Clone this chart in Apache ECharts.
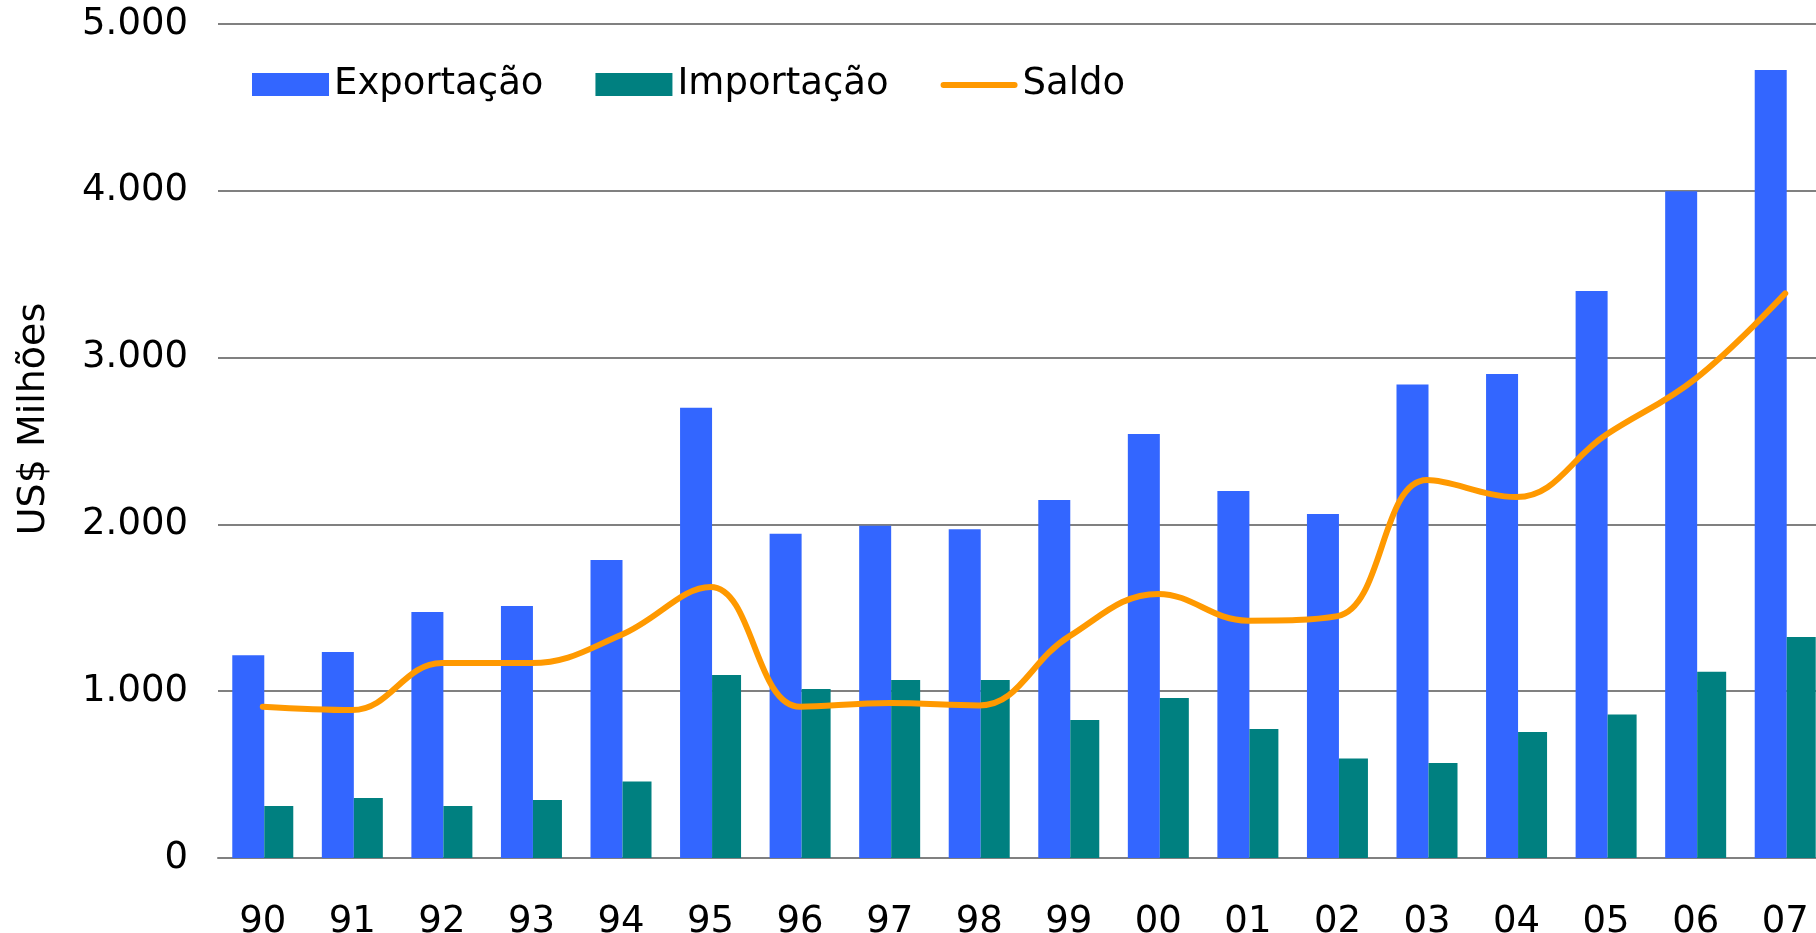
<!DOCTYPE html>
<html lang="pt">

<head>
    <meta charset="UTF-8">
    <title>Exportação x Importação</title>
    <script src="https://cdn.jsdelivr.net/npm/echarts@6.0.0/dist/echarts.min.js"></script>
    <style>
        html, body { margin: 0; padding: 0; background: #fff; }
    </style>
</head>

<body>
    <div id="main" style="width:1816px; height:933px;"></div>
    <script type="text/javascript">
        var anos = ['90', '91', '92', '93', '94', '95', '96', '97', '98', '99',
            '00', '01', '02', '03', '04', '05', '06', '07'];

        // US$ milhões
        var exportacao = [1215, 1235, 1475, 1511, 1787, 2700, 1944, 1992, 1971, 2146,
            2542, 2200, 2062, 2839, 2902, 3399, 3998, 4724];
        var importacao = [312, 360, 312, 347, 458, 1097, 1013, 1067, 1067, 827,
            959, 773, 597, 569, 756, 860, 1117, 1325];
        var saldo = [907, 887, 1169, 1169, 1337, 1625, 907, 929, 915, 1327,
            1583, 1423, 1450, 2266, 2164, 2537, 2874, 3385];

        var yTicks = [0, 1000, 2000, 3000, 4000, 5000];

        var fonte = 'DejaVu Sans';
        var cinza = '#808080';
        // traço arredondado para a legenda do saldo (o M0,0 M0,23 fixa a caixa)
        var iconeSaldo = 'path://M0,0 M0,23 M3,9 L74,9 A3,3 0 0 1 74,15 L3,15 A3,3 0 0 1 3,9 Z';

        var myChart = echarts.init(document.getElementById('main'));

        var option = {
            backgroundColor: '#ffffff',
            animation: false,
            textStyle: { fontFamily: fonte, color: '#000' },
            legend: {
                left: 247,
                top: 61,
                itemWidth: 77,
                itemHeight: 23,
                itemGap: 52,
                textStyle: { fontFamily: fonte, fontSize: 37, color: '#000', padding: [0, 0, 0, 0] },
                data: [
                    { name: 'Exportação', icon: 'rect' },
                    { name: 'Importação', icon: 'rect' },
                    { name: 'Saldo', icon: iconeSaldo }
                ]
            },
            grid: {
                left: 218,
                right: -14,
                top: 24,
                bottom: 75,
                containLabel: false,
                outerBoundsMode: 'none'
            },
            xAxis: {
                type: 'category',
                data: anos,
                axisLine: { show: true, lineStyle: { color: cinza, width: 2 } },
                axisTick: { show: false },
                axisLabel: {
                    margin: 46,
                    fontFamily: fonte,
                    fontSize: 37,
                    color: '#000'
                }
            },
            yAxis: {
                type: 'value',
                min: yTicks[0],
                max: yTicks[yTicks.length - 1],
                interval: 1000,
                name: 'US$ Milhões',
                nameLocation: 'middle',
                nameGap: 165,
                nameTextStyle: {
                    fontFamily: fonte,
                    fontSize: 38,
                    color: '#000',
                    padding: [0, 0, 0, 44]
                },
                axisLine: { show: false },
                axisTick: { show: false },
                splitLine: { lineStyle: { color: cinza, width: 2 } },
                axisLabel: {
                    margin: 30,
                    fontFamily: fonte,
                    fontSize: 37,
                    color: '#000',
                    formatter: function (v) {
                        return String(v).replace(/\B(?=(\d{3})+(?!\d))/g, '.');
                    }
                }
            },
            series: [
                {
                    name: 'Exportação',
                    type: 'bar',
                    data: exportacao,
                    barWidth: 32,
                    barGap: '0%',
                    itemStyle: { color: '#3366FF' }
                },
                {
                    name: 'Importação',
                    type: 'bar',
                    data: importacao,
                    barWidth: 29,
                    barGap: '0%',
                    itemStyle: { color: '#008080' }
                },
                {
                    name: 'Saldo',
                    type: 'line',
                    data: saldo,
                    smooth: 0.4,
                    symbol: 'none',
                    showSymbol: false,
                    z: 5,
                    itemStyle: { color: '#FF9900' },
                    lineStyle: { color: '#FF9900', width: 6, cap: 'round', join: 'round' }
                }
            ]
        };

        myChart.setOption(option);
    </script>

</body>

</html>
